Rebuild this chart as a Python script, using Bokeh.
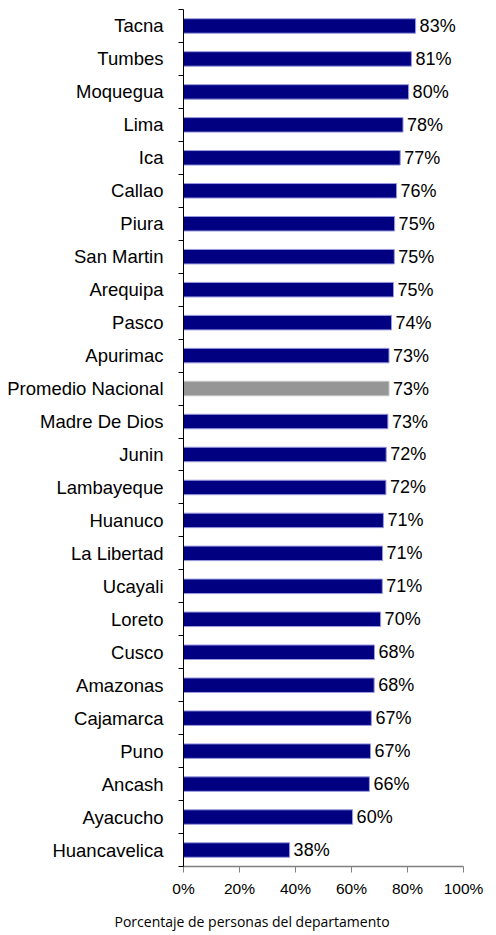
from bokeh.plotting import figure
from bokeh.models import FixedTicker, Title, ColumnDataSource, Range1d
from bokeh.embed import file_html
from bokeh.resources import INLINE
from bokeh.core.properties import value

# ---- data (top to bottom as displayed) ----
departments = [
    "Tacna", "Tumbes", "Moquegua", "Lima", "Ica", "Callao", "Piura",
    "San Martin", "Arequipa", "Pasco", "Apurimac", "Promedio Nacional",
    "Madre De Dios", "Junin", "Lambayeque", "Huanuco", "La Libertad",
    "Ucayali", "Loreto", "Cusco", "Amazonas", "Cajamarca", "Puno",
    "Ancash", "Ayacucho", "Huancavelica",
]
percentages = [
    82.9, 81.4, 80.4, 78.4, 77.4, 76.1, 75.4,
    75.3, 75.0, 74.3, 73.4, 73.4,
    73.0, 72.4, 72.3, 71.4, 71.1,
    71.0, 70.4, 68.2, 68.1, 67.1, 66.8,
    66.4, 60.4, 37.9,
]
x_ticks = [0, 20, 40, 60, 80, 100]
x_tick_labels = ["0%", "20%", "40%", "60%", "80%", "100%"]
axis_title = "Porcentaje de personas del departamento"
highlight = "Promedio Nacional"

n = len(departments)
ys = [n - 1 - i for i in range(n)]
labels = [f"{int(v + 0.5)}%" for v in percentages]
colors = ["#969696" if d == highlight else "#000080" for d in departments]
edges = ["#c8c8c8" if d == highlight else "#9a9ae0" for d in departments]

src = ColumnDataSource(dict(y=ys, v=percentages, label=labels,
                            color=colors, edge=edges, name=departments))

p = figure(frame_width=280, frame_height=857,
           x_range=Range1d(0, 100), y_range=Range1d(-0.5, n - 0.5),
           output_backend="svg", toolbar_location=None,
           min_border_left=183, min_border_right=28,
           min_border_top=9, min_border_bottom=50)

p.hbar(y="y", left=0, right="v", height=0.44, fill_color="color",
       line_color="edge", line_width=1, source=src)

p.text(x="v", y="y", text="label", x_offset=4, source=src,
       text_font=value("Liberation Sans"), text_font_size="18px",
       text_baseline="middle", text_align="left", text_color="black")

# styling
p.grid.visible = False
p.outline_line_color = None
p.background_fill_color = "white"
p.border_fill_color = "white"

# y axis
ya = p.yaxis[0]
ya.ticker = FixedTicker(ticks=ys, minor_ticks=[y + 0.5 for y in ys] + [-0.5])
ya.major_label_overrides = {y: d for y, d in zip(ys, departments)}
ya.major_tick_out = 0
ya.major_tick_in = 0
ya.minor_tick_out = 5
ya.minor_tick_in = 0
ya.minor_tick_line_color = "black"
ya.axis_line_color = "black"
ya.major_label_standoff = 15
ya.major_label_text_font = "Liberation Sans"
ya.major_label_text_font_size = "18.5px"
ya.major_label_text_color = "black"

# x axis
xa = p.xaxis[0]
xa.ticker = FixedTicker(ticks=x_ticks, minor_ticks=[])
xa.major_label_overrides = {t: l for t, l in zip(x_ticks, x_tick_labels)}
xa.major_tick_out = 6
xa.major_tick_in = 0
xa.major_tick_line_color = "#808080"
xa.axis_line_color = "#808080"
xa.axis_line_width = 1.5
xa.major_label_standoff = 7
xa.major_label_text_font = "Liberation Sans"
xa.major_label_text_font_size = "15.5px"
xa.major_label_text_color = "black"

title = Title(text=axis_title, text_font="Open Sans", text_font_size="14px",
              text_font_style="normal", align="left", offset=-69,
              standoff=20, text_color="black")
p.add_layout(title, "below")

open("out.html", "w").write(file_html(p, INLINE))
